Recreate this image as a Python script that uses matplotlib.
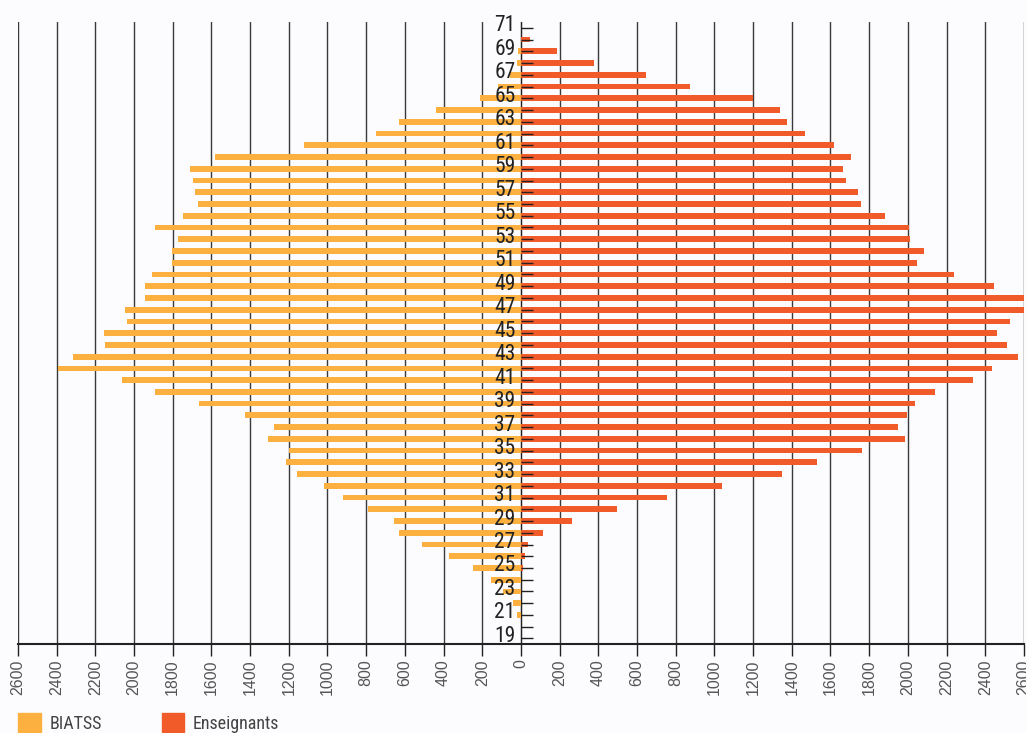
import matplotlib
matplotlib.use('Agg')
import matplotlib.pyplot as plt
from matplotlib.patches import Patch
from matplotlib.transforms import ScaledTranslation
from matplotlib import font_manager

# Âges de 19 à 71 ans
ages = list(range(19, 72))
# Effectifs BIATSS (côté gauche)
biatss = [0, 0, 20, 41, 93, 155, 248, 372, 512, 630,
          656, 791, 920, 1018, 1158, 1214, 1199, 1307, 1276, 1426,
          1664, 1891, 2062, 2394, 2315, 2150, 2155, 2036, 2047, 1943,
          1943, 1907, 1804, 1804, 1773, 1891, 1747, 1669, 1685, 1695,
          1711, 1581, 1121, 749, 630, 439, 212, 120, 57, 20,
          15, 0, 0]
# Effectifs enseignants (côté droit)
enseignants = [0, 0, 0, 0, 0, 0, 10, 21, 36, 114,
               264, 496, 754, 1039, 1349, 1530, 1762, 1984, 1948, 1995,
               2036, 2139, 2336, 2434, 2568, 2512, 2460, 2527, 2605, 2615,
               2444, 2238, 2047, 2083, 2010, 2005, 1881, 1757, 1742, 1680,
               1664, 1705, 1618, 1468, 1375, 1338, 1202, 873, 646, 377,
               186, 46, 0]
xticks = list(range(-2600, 2601, 200))

col_biatss = '#FBB040'
col_ens = '#F15A29'
bg = '#FCFCFE'

# police étroite si disponible
noms = {f.name for f in font_manager.fontManager.ttflist}
narrow = [n for n in ['Roboto Condensed', 'Liberation Sans Narrow'] if n in noms] + ['DejaVu Sans']
fp_age = font_manager.FontProperties(family=narrow, stretch='condensed', size=15.5)
fp_leg = font_manager.FontProperties(family=narrow, stretch='condensed', size=13)

fig = plt.figure(figsize=(10.26, 7.33), dpi=100, facecolor=bg)
ax = fig.add_axes([0.0175, 0.1221, 0.9805, 0.8479], facecolor=bg)

ax.barh(ages, [-v for v in biatss], height=0.49, color=col_biatss, zorder=2)
ax.barh(ages, enseignants, height=0.49, color=col_ens, zorder=2)

# lignes verticales de la grille
for x in xticks:
    ax.axvline(x, color='#3a3a3a', lw=1, zorder=0.5)

ax.set_xlim(-2600, 2600)
ax.set_ylim(18.57, 71.5)
ax.set_axisbelow(False)

ax.spines['top'].set_visible(False)
ax.spines['right'].set_visible(False)
ax.spines['left'].set_position(('data', 0))
ax.spines['left'].set_color('#222222')
ax.spines['left'].set_zorder(0.6)
ax.spines['bottom'].set_color('#222222')
ax.spines['bottom'].set_linewidth(1.5)

ax.set_xticks(xticks)
ax.set_xticklabels([str(abs(x)) for x in xticks], rotation=90,
                   fontsize=11.5, color='#555555', family='Liberation Sans')
ax.tick_params(axis='x', direction='out', length=8.6, width=1, color='#222222', pad=3)

ax.set_yticks(ages[::2])
ax.set_yticks(ages[1::2], minor=True)
ax.set_yticklabels([str(a) for a in ages[::2]], color='#222222', fontproperties=fp_age)
ax.tick_params(axis='y', which='both', direction='in', length=8.6, width=1,
               color='#222222', pad=4)
for lab in ax.get_yticklabels():
    lab.set_transform(lab.get_transform() + ScaledTranslation(0, 0.045, fig.dpi_scale_trans))

handles = [Patch(color=col_biatss, label='BIATSS'), Patch(color=col_ens, label='Enseignants')]
fig.legend(handles=handles, loc='center left', bbox_to_anchor=(0.0175, 0.0136), ncol=2,
           frameon=False, handlelength=1.25, handleheight=1.25, handletextpad=0.5,
           columnspacing=3.3, borderpad=0, borderaxespad=0,
           prop=fp_leg, labelcolor='#444444')

fig.savefig('out.png', dpi=100, facecolor=bg)
